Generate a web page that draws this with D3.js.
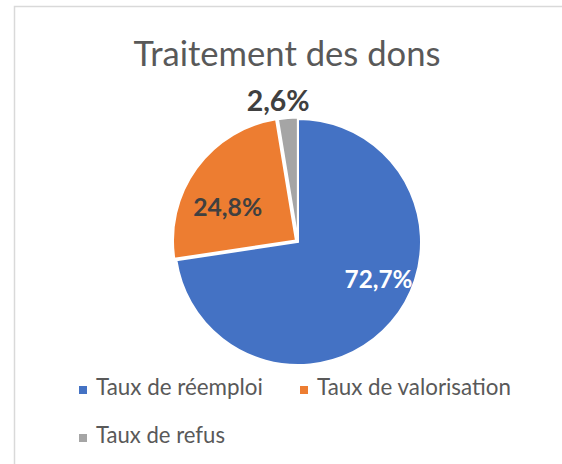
<!DOCTYPE html>
<html>
<head>
<meta charset="utf-8">
<script src="https://cdn.jsdelivr.net/npm/d3@7"></script>
<style>
    body { margin: 0; background: #fff; }
    text { font-family: Lato, "Open Sans", sans-serif; }
</style>
</head>
<body>
<svg class="chart"></svg>
<script>
// data
const categories = ["Taux de réemploi", "Taux de valorisation", "Taux de refus"]
const values = [72.7, 24.8, 2.6]
const valueLabels = ["72,7%", "24,8%", "2,6%"]
const colors = ["#4472C4", "#ED7D31", "#A5A5A5"]
const title = "Traitement des dons"

const width = 562
const height = 464

const svg = d3.select("svg.chart")
    .attr("width", width)
    .attr("height", height)

// chart border (only left & top visible in the crop)
svg.append("rect")
    .attr("x", 14.5)
    .attr("y", 6.5)
    .attr("width", 700)
    .attr("height", 700)
    .attr("fill", "#fff")
    .attr("stroke", "#D9D9D9")
    .attr("stroke-width", 1.5)

// shrink / grow a text so it takes the wanted width
const fitText = function (sel, targetWidth) {
    sel.attr("font-size", 100)
    const w = sel.node().getComputedTextLength()
    sel.attr("font-size", 100 * targetWidth / w)
}

const titleText = svg.append("text")
    .attr("x", 287)
    .attr("y", 66)
    .attr("text-anchor", "middle")
    .attr("fill", "#595959")
    .text(title)
fitText(titleText, 307)

// pie
const cx = 298
const cy = 242
const radius = 123

const pie = d3.pie().sort(null).value(d => d)
const arcs = pie(values)
const arc = d3.arc().innerRadius(0).outerRadius(radius)

// small explode for the two small slices
const explode = [0, 2.5, 1.5]

const pieGroup = svg.append("g")
    .attr("transform", `translate(${cx}, ${cy})`)

pieGroup.selectAll("path")
    .data(arcs)
    .enter()
    .append("path")
    .attr("d", arc)
    .attr("fill", (d, i) => colors[i])
    .attr("stroke", "#fff")
    .attr("stroke-width", 2)
    .attr("transform", (d, i) => {
        const a = (d.startAngle + d.endAngle) / 2
        return `translate(${Math.sin(a) * explode[i]}, ${-Math.cos(a) * explode[i]})`
    })

// data labels (Excel "best fit" spots, as fraction of radius + angle in degrees)
const labelRadius = [0.72, 0.64, 1.16]
const labelAngle = [114.6, 296.7, 352]
const labelColors = ["#fff", "#404040", "#404040"]
const labelWidths = [68, 69, 63]

pieGroup.selectAll("text.label")
    .data(arcs)
    .enter()
    .append("text")
    .attr("class", "label")
    .attr("x", (d, i) => Math.sin(labelAngle[i] * Math.PI / 180) * radius * labelRadius[i])
    .attr("y", (d, i) => -Math.cos(labelAngle[i] * Math.PI / 180) * radius * labelRadius[i])
    .attr("dy", "0.36em")
    .attr("text-anchor", "middle")
    .attr("font-weight", "bold")
    .attr("fill", (d, i) => labelColors[i])
    .text((d, i) => valueLabels[i])
    .each(function (d, i) { fitText(d3.select(this), labelWidths[i]) })

// legend
const legendPos = [[79, 386], [300, 386], [79, 434]]
const legendWidths = [167, 194, 129]

const legend = svg.selectAll("g.legend")
    .data(categories)
    .enter()
    .append("g")
    .attr("class", "legend")
    .attr("transform", (d, i) => `translate(${legendPos[i][0]}, ${legendPos[i][1]})`)

legend.append("rect")
    .attr("x", 0)
    .attr("y", 0)
    .attr("width", 8)
    .attr("height", 8)
    .attr("fill", (d, i) => colors[i])

legend.append("text")
    .attr("x", 17)
    .attr("y", 9)
    .attr("fill", "#595959")
    .text(d => d)
    .each(function (d, i) { fitText(d3.select(this), legendWidths[i]) })
</script>
</body>
</html>
